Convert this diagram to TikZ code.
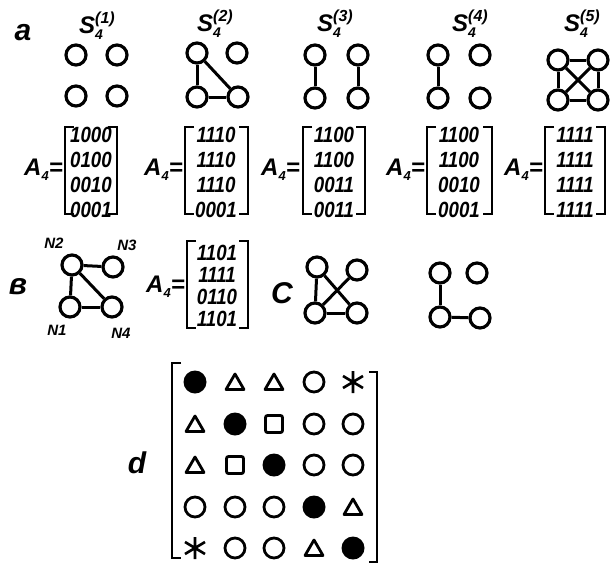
\documentclass[tikz,border=0pt]{standalone}
\usepackage{fontspec}
\setmainfont{Liberation Sans}
\newfontfamily\condfont{Liberation Sans}[FakeStretch=0.85]
\newcommand\slab[1]{S\rlap{\raisebox{-6pt}{\fontsize{14}{14}\selectfont 4}}\raisebox{10pt}{\fontsize{16}{16}\selectfont(#1)}}
\newcommand\alab{A\raisebox{-5pt}{\fontsize{13}{13}\selectfont 4}=}
\newcommand\brak[4]{\draw[brk] (#1+9,#3) -- (#1,#3) -- (#1,#4) -- (#1+9,#4); \draw[brk] (#2-9,#3) -- (#2,#3) -- (#2,#4) -- (#2-9,#4);}
\begin{document}
\begin{tikzpicture}[x=1pt,y=-1pt,
  v/.style={circle,draw,line width=3.2pt,minimum size=20pt,inner sep=0pt},
  e/.style={line width=3pt},
  lbl/.style={font=\fontsize{24}{24}\selectfont\bfseries\itshape,inner sep=0pt},
  big/.style={font=\fontsize{30}{30}\selectfont\bfseries\itshape,inner sep=0pt},
  nl/.style={font=\fontsize{15}{15}\selectfont\bfseries\itshape,inner sep=0pt},
  mat/.style={font=\condfont\fontsize{22}{25}\selectfont\bfseries\itshape,inner sep=0pt,align=center},
  matb/.style={mat,font=\condfont\fontsize{22}{22}\selectfont\bfseries\itshape},
  brk/.style={line width=2.8pt},
  fc/.pic={\fill (0,0) circle (11.5);},
  oc/.pic={\draw[line width=2.8pt] (0,0) circle (10);},
  tr/.pic={\draw[line width=2.8pt,line join=round] (-9,7.5) -- (9,7.5) -- (0,-8) -- cycle;},
  sq/.pic={\draw[line width=2.8pt,rounded corners=2pt] (-8.5,-8.5) rectangle (8.5,8.5);},
  st/.pic={\draw[line width=2.6pt] (0,-11)--(0,11) (-10,-6)--(10,6) (-10,6)--(10,-6);}
 ]
\useasboundingbox (0,0) rectangle (610,565);
% ---------- row a: graphs ----------
\node[big] (la) at (23,33) {a};
\node[lbl] (s1) at (97,26) {\slab{1}};
\node[lbl] (s2) at (215,24) {\slab{2}};
\node[lbl] (s3) at (335,24) {\slab{3}};
\node[lbl] (s4) at (470,24) {\slab{4}};
\node[lbl] (s5) at (582,24) {\slab{5}};
% G1
\node[v] (g1a) at (76,55) {}; \node[v] (g1b) at (117,55) {};
\node[v] (g1c) at (76,96) {}; \node[v] (g1d) at (117,96) {};
% G2
\node[v] (g2a) at (197,53) {}; \node[v] (g2b) at (237,53) {};
\node[v] (g2c) at (197,97) {}; \node[v] (g2d) at (238,97) {};
\draw[e] (g2a) -- (g2c); \draw[e] (g2a) -- (g2d); \draw[e] (g2c) -- (g2d);
% G3
\node[v] (g3a) at (315,55) {}; \node[v] (g3b) at (358,55) {};
\node[v] (g3c) at (315,98) {}; \node[v] (g3d) at (358,98) {};
\draw[e] (g3a) -- (g3c); \draw[e] (g3b) -- (g3d);
% G4
\node[v] (g4a) at (438,55) {}; \node[v] (g4b) at (480,55) {};
\node[v] (g4c) at (438,98) {}; \node[v] (g4d) at (480,98) {};
\draw[e] (g4a) -- (g4c);
% G5
\node[v] (g5a) at (558,60) {}; \node[v] (g5b) at (598,60) {};
\node[v] (g5c) at (558,100) {}; \node[v] (g5d) at (598,100) {};
\draw[e] (g5a) -- (g5b); \draw[e] (g5a) -- (g5c); \draw[e] (g5a) -- (g5d);
\draw[e] (g5b) -- (g5c); \draw[e] (g5b) -- (g5d); \draw[e] (g5c) -- (g5d);
% ---------- row a: matrices ----------
\node[lbl,anchor=east] (a1) at (63,170) {\alab};
\node[mat] (m1) at (91,172) {1000\\0100\\0010\\0001};
\brak{65}{117}{127}{214}
\node[lbl,anchor=east] (a2) at (183,170) {\alab};
\node[mat] (m2) at (216,172) {1110\\1110\\1110\\0001};
\brak{185}{248}{127}{214}
\node[lbl,anchor=east] (a3) at (300,170) {\alab};
\node[mat] (m3) at (334,172) {1100\\1100\\0011\\0011};
\brak{303}{365}{127}{214}
\node[lbl,anchor=east] (a4) at (425,170) {\alab};
\node[mat] (m4) at (459,172) {1100\\1100\\0010\\0001};
\brak{427}{492}{127}{214}
\node[lbl,anchor=east] (a5) at (543,170) {\alab};
\node[mat] (m5) at (575,172) {1111\\1111\\1111\\1111};
\brak{545}{605}{127}{214}
% ---------- row b ----------
\node[big] (lb) at (18,287) {в};
\node[v] (n2) at (72,265) {}; \node[v] (n3) at (113,267) {};
\node[v] (n1) at (70,307) {}; \node[v] (n4) at (112,307) {};
\draw[e] (n2) -- (n3); \draw[e] (n2) -- (n1); \draw[e] (n2) -- (n4); \draw[e] (n1) -- (n4);
\node[nl] (tn2) at (54,243) {N2};
\node[nl] (tn3) at (127,245) {N3};
\node[nl] (tn1) at (57,330) {N1};
\node[nl] (tn4) at (121,333) {N4};
\node[lbl,anchor=east] (ab) at (185,287) {\alab};
\node[matb] (mb) at (217,286) {1101\\1111\\0110\\1101};
\brak{187}{248}{241}{328}
\node[big] (lc) at (282,293) {C};
\node[v] (c1) at (317,267) {}; \node[v] (c2) at (357,270) {};
\node[v] (c3) at (315,313) {}; \node[v] (c4) at (357,313) {};
\draw[e] (c1) -- (c3); \draw[e] (c1) -- (c4); \draw[e] (c2) -- (c3); \draw[e] (c3) -- (c4);
\node[v] (h1) at (440,273) {}; \node[v] (h2) at (477,273) {};
\node[v] (h3) at (440,317) {}; \node[v] (h4) at (480,318) {};
\draw[e] (h1) -- (h3); \draw[e] (h3) -- (h4);
% ---------- d ----------
\node[big] (ld) at (137,463) {d};
\draw[brk] (181,363) -- (172,363) -- (172,558) -- (181,558);
\draw[brk] (369,372) -- (377,372) -- (377,562) -- (369,562);
\pic (d11) at (195,382) {fc}; \pic (d12) at (235,382) {tr}; \pic (d13) at (274,382) {tr}; \pic (d14) at (314,382) {oc}; \pic (d15) at (353,382) {st};
\pic (d21) at (195,424) {tr}; \pic (d22) at (235,424) {fc}; \pic (d23) at (274,424) {sq}; \pic (d24) at (314,424) {oc}; \pic (d25) at (353,424) {oc};
\pic (d31) at (195,465) {tr}; \pic (d32) at (235,465) {sq}; \pic (d33) at (274,465) {fc}; \pic (d34) at (314,465) {oc}; \pic (d35) at (353,465) {oc};
\pic (d41) at (195,507) {oc}; \pic (d42) at (235,507) {oc}; \pic (d43) at (274,507) {oc}; \pic (d44) at (314,507) {fc}; \pic (d45) at (353,507) {tr};
\pic (d51) at (195,548) {st}; \pic (d52) at (235,548) {oc}; \pic (d53) at (274,548) {oc}; \pic (d54) at (314,548) {tr}; \pic (d55) at (353,548) {fc};
\end{tikzpicture}
\end{document}
